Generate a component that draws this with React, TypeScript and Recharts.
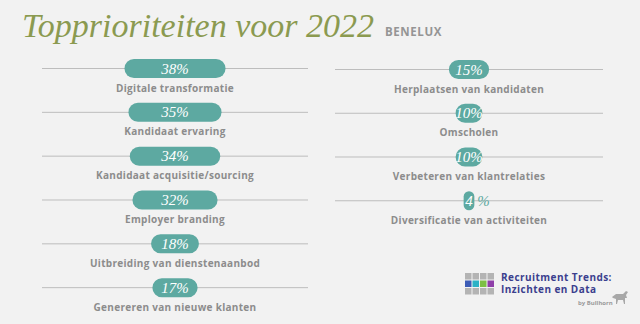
import React from 'react';
import { BarChart, Bar, XAxis, YAxis, LabelList } from 'recharts';

const leftCategories = [
  'Digitale transformatie',
  'Kandidaat ervaring',
  'Kandidaat acquisitie/sourcing',
  'Employer branding',
  'Uitbreiding van dienstenaanbod',
  'Genereren van nieuwe klanten',
];
const leftValues = [38, 35, 34, 32, 18, 17];

const rightCategories = [
  'Herplaatsen van kandidaten',
  'Omscholen',
  'Verbeteren van klantrelaties',
  'Diversificatie van activiteiten',
];
const rightValues = [15, 10, 10, 4];

const titleText = 'Topprioriteiten voor 2022';
const regionText = 'BENELUX';
const logoLines = ['Recruitment Trends:', 'Inzichten en Data'];
const logoBy = 'by Bullhorn';
const logoGrid = [
  ['#b4b4b4', '#b4b4b4', '#b4b4b4', '#b4b4b4'],
  ['#3d5cb6', '#2cb2c6', '#7dbf45', '#8f3fa9'],
  ['#b4b4b4', '#b4b4b4', '#b4b4b4', '#b4b4b4'],
];

const TEAL = '#5da9a1';
const LINE = '#bdbdbd';
const LABEL = '#8c8c8c';
const BG = '#f2f2f2';

const rangeKey = (d: any) => [-d.value / 2, d.value / 2];

const getBox = (p: any) => {
  if (p.viewBox && p.viewBox.width !== undefined) return p.viewBox;
  return p;
};

const renderPct = (p: any) => {
  const { x, y, width, height } = getBox(p);
  const cx = x + width / 2;
  const cy = y + height / 2;
  const style = { fontFamily: '"Liberation Serif", serif', fontStyle: 'italic' as const, fontSize: 15 };
  if (width < 20) {
    return (
      <g>
        <text x={cx} y={cy + 5} textAnchor="middle" fill="#fff" style={style}>{p.value}</text>
        <text x={x + width + 3} y={cy + 5} textAnchor="start" fill={TEAL} style={style}>%</text>
      </g>
    );
  }
  return (
    <text x={cx} y={cy + 5} textAnchor="middle" fill="#fff" style={style}>{`${p.value}%`}</text>
  );
};

const renderName = (p: any) => {
  const { x, y, width, height } = getBox(p);
  const cx = x + width / 2;
  const cy = y + height / 2;
  return (
    <text
      x={cx}
      y={cy + 23}
      textAnchor="middle"
      fill={LABEL}
      style={{ fontFamily: '"Open Sans", sans-serif', fontWeight: 700, fontSize: 10, letterSpacing: 0.3 }}
    >
      {p.value}
    </text>
  );
};

const renderLine = (p: any) => {
  const yc = p.y + p.height / 2;
  return <line x1={p.x} x2={p.x + p.width} y1={yc} y2={yc} stroke={LINE} strokeWidth={1} />;
};

const Panel = ({ cats, vals, width, height }: { cats: string[]; vals: number[]; width: number; height: number }) => {
  const data = cats.map((name, i) => ({ name, value: vals[i] }));
  return (
    <BarChart layout="vertical" width={width} height={height + 20} data={data} margin={{ top: 0, right: 0, bottom: 20, left: 0 }}>
      <XAxis type="number" domain={[-50, 50]} hide />
      <YAxis type="category" dataKey="name" hide />
      <Bar
        dataKey={rangeKey}
        fill={TEAL}
        barSize={19}
        radius={9.5}
        background={renderLine}
        isAnimationActive={false}
      >
        <LabelList dataKey="value" content={renderPct} />
        <LabelList dataKey="name" content={renderName} />
      </Bar>
    </BarChart>
  );
};

export default function App() {
  return (
    <div style={{ position: 'absolute', left: 0, top: 0, width: 640, height: 324, background: BG, overflow: 'hidden' }}>
      <svg width={640} height={324} style={{ position: 'absolute', left: 0, top: 0 }}>
        <text x={22} y={37} fill="#8b9a50" style={{ fontFamily: '"Liberation Serif", serif', fontStyle: 'italic', fontSize: 34 }}>
          {titleText}
        </text>
        <text x={385} y={36} fill="#959595" style={{ fontFamily: '"Open Sans", sans-serif', fontWeight: 700, fontSize: 11.5, letterSpacing: 0.6 }}>
          {regionText}
        </text>
        {logoGrid.map((row, r) =>
          row.map((c, k) => (
            <rect key={`${r}-${k}`} x={465 + k * 7.5} y={273 + r * 7.5} width={6.5} height={6.5} fill={c} />
          ))
        )}
        {logoLines.map((t, i) => (
          <text key={t} x={501} y={280.5 + i * 12.5} fill="#3b3f8e" style={{ fontFamily: '"Open Sans", sans-serif', fontWeight: 700, fontSize: 10, letterSpacing: 0.45 }}>
            {t}
          </text>
        ))}
        <text x={578} y={305} fill="#9a9a9a" style={{ fontFamily: '"Open Sans", sans-serif', fontWeight: 700, fontSize: 6 }}>
          {logoBy}
        </text>
        <path d="M612 297 l4 -3 l7 0 l3 -3 l2 1 l-2 3 l1 3 l-2 0 l0 6 l-1 0 l-1 -4 l-5 0 l-1 4 l-1 0 l0 -5 l-3 -1 z" fill="#a8a8a8" />
      </svg>
      <div style={{ position: 'absolute', left: 42, top: 47 }}>
        <Panel cats={leftCategories} vals={leftValues} width={266} height={263} />
      </div>
      <div style={{ position: 'absolute', left: 335, top: 48 }}>
        <Panel cats={rightCategories} vals={rightValues} width={268} height={175} />
      </div>
    </div>
  );
}
